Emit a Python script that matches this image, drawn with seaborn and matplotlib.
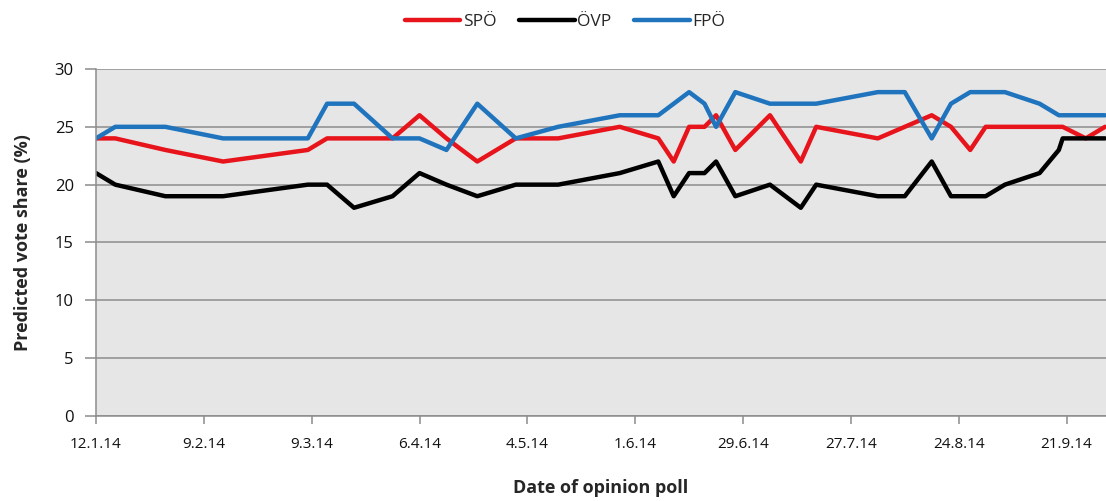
import pandas as pd
import numpy as np
import matplotlib
matplotlib.use("Agg")
import matplotlib.pyplot as plt
import seaborn as sns

# poll dates (2014) and predicted vote shares
dates = ["2014-01-12", "2014-01-17", "2014-01-30", "2014-02-14", "2014-03-08",
         "2014-03-13", "2014-03-20", "2014-03-30", "2014-04-06", "2014-04-13",
         "2014-04-21", "2014-05-01", "2014-05-12", "2014-05-28", "2014-06-07",
         "2014-06-11", "2014-06-15", "2014-06-19", "2014-06-22", "2014-06-27",
         "2014-07-06", "2014-07-14", "2014-07-18", "2014-08-03", "2014-08-10",
         "2014-08-17", "2014-08-22", "2014-08-27", "2014-08-31", "2014-09-05",
         "2014-09-14", "2014-09-19", "2014-09-20", "2014-09-26", "2014-10-01"]
spo = [24, 24, 23, 22, 23, 24, 24, 24, 26, 24, 22, 24, 24, 25, 24, 22, 25, 25,
       26, 23, 26, 22, 25, 24, 25, 26, 25, 23, 25, 25, 25, 25, 25, 24, 25]
ovp = [21, 20, 19, 19, 20, 20, 18, 19, 21, 20, 19, 20, 20, 21, 22, 19, 21, 21,
       22, 19, 20, 18, 20, 19, 19, 22, 19, 19, 19, 20, 21, 23, 24, 24, 24]
fpo = [24, 25, 25, 24, 24, 27, 27, 24, 24, 23, 27, 24, 25, 26, 26, 27, 28, 27,
       25, 28, 27, 27, 27, 28, 28, 24, 27, 28, 28, 28, 27, 26, 26, 26, 26]
parties = ["SPÖ", "ÖVP", "FPÖ"]
tick_dates = ["2014-01-12", "2014-02-09", "2014-03-09", "2014-04-06", "2014-05-04",
              "2014-06-01", "2014-06-29", "2014-07-27", "2014-08-24", "2014-09-21"]
tick_labels = ["12.1.14", "9.2.14", "9.3.14", "6.4.14", "4.5.14",
               "1.6.14", "29.6.14", "27.7.14", "24.8.14", "21.9.14"]

df = pd.DataFrame({"date": pd.to_datetime(dates), "SPÖ": spo, "ÖVP": ovp, "FPÖ": fpo})
long = df.melt(id_vars="date", var_name="party", value_name="share")

sns.set_style("white")
plt.rcParams["font.family"] = ["Open Sans", "DejaVu Sans"]

fig = plt.figure(figsize=(11.06, 5.01), dpi=100)
ax = fig.add_axes([0.0868, 0.1697, 0.9132, 0.6926])
ax.set_facecolor("#e6e6e6")

sns.lineplot(data=long, x="date", y="share", hue="party", hue_order=parties,
             palette=["#e8141b", "#000000", "#1f74bd"], linewidth=3.2,
             ax=ax, legend=True)

ax.set_ylim(0, 30)
ax.set_yticks(range(0, 31, 5))
ax.set_xlim(pd.Timestamp("2014-01-12"), pd.Timestamp("2014-10-01 06:00"))
ax.set_xticks(pd.to_datetime(tick_dates))
ax.set_xticklabels(tick_labels)
ax.grid(axis="y", color="#8c8c8c", linewidth=1.1)
ax.set_axisbelow(True)
for s in ["top", "right"]:
    ax.spines[s].set_visible(False)
for s in ["left", "bottom"]:
    ax.spines[s].set_color("#8c8c8c")
    ax.spines[s].set_linewidth(1.1)
ax.tick_params(axis="y", length=8, width=1.1, color="#8c8c8c", pad=8,
               labelsize=12, labelcolor="#111111", left=True)
ax.tick_params(axis="x", length=6, width=1.1, color="#8c8c8c", pad=9,
               labelsize=11, labelcolor="#111111", bottom=True)

ax.set_ylabel("Predicted vote share (%)", fontsize=13, fontweight="bold")
ax.yaxis.set_label_coords(-0.063, 0.5)
ax.set_xlabel("Date of opinion poll", fontsize=13, fontweight="bold")
ax.xaxis.set_label_coords(0.5, -0.183)

h, l = ax.get_legend_handles_labels()
ax.legend(h, l, loc="center", ncol=3, frameon=False, fontsize=12.5,
          handlelength=3.2, handletextpad=0.15, columnspacing=1.3,
          borderaxespad=0, bbox_to_anchor=(565 / 1106, 1 - 22 / 501),
          bbox_transform=fig.transFigure)

fig.savefig("out.png", dpi=100)
